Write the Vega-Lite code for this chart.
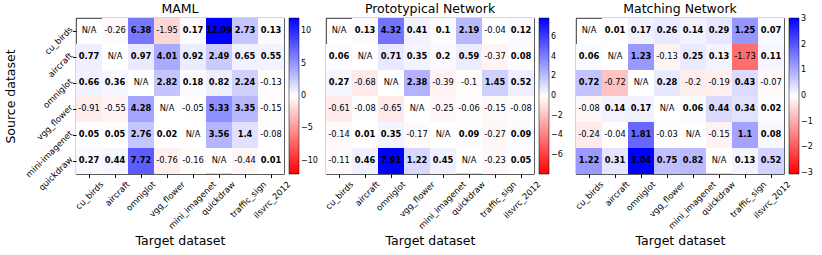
{
  "$schema": "https://vega.github.io/schema/vega-lite/v6.json",
  "padding": {"left": 4, "top": 2, "right": 5, "bottom": 5},
  "background": "white",
  "config": {
    "font": "DejaVu Sans",
    "view": {"stroke": "#000000", "strokeWidth": 0.8},
    "title": {"fontSize": 12.5, "fontWeight": "normal", "offset": 3, "color": "#000"},
    "axis": {"labelFontSize": 8.5, "titleFontSize": 12.5, "titleFontWeight": "normal", "labelColor": "#000", "titleColor": "#000", "tickColor": "#000", "domain": false, "tickSize": 3.5, "labelPadding": 2},
    "legend": {"labelFontSize": 8, "labelColor": "#000"}
  },
  "bounds": "flush",
  "spacing": 42,
  "resolve": {"scale": {"color": "independent"}, "legend": {"color": "independent"}},
  "data": {"values": [
    {"m":"MAML","s":"cu_birds","t":"cu_birds","v":null},{"m":"MAML","s":"cu_birds","t":"aircraft","v":-0.26},{"m":"MAML","s":"cu_birds","t":"omniglot","v":6.38},{"m":"MAML","s":"cu_birds","t":"vgg_flower","v":-1.95},{"m":"MAML","s":"cu_birds","t":"mini_imagenet","v":0.17},{"m":"MAML","s":"cu_birds","t":"quickdraw","v":12.09},{"m":"MAML","s":"cu_birds","t":"traffic_sign","v":2.73},{"m":"MAML","s":"cu_birds","t":"ilsvrc_2012","v":0.13},
    {"m":"MAML","s":"aircraft","t":"cu_birds","v":0.77},{"m":"MAML","s":"aircraft","t":"aircraft","v":null},{"m":"MAML","s":"aircraft","t":"omniglot","v":0.97},{"m":"MAML","s":"aircraft","t":"vgg_flower","v":4.01},{"m":"MAML","s":"aircraft","t":"mini_imagenet","v":0.92},{"m":"MAML","s":"aircraft","t":"quickdraw","v":2.49},{"m":"MAML","s":"aircraft","t":"traffic_sign","v":0.65},{"m":"MAML","s":"aircraft","t":"ilsvrc_2012","v":0.55},
    {"m":"MAML","s":"omniglot","t":"cu_birds","v":0.66},{"m":"MAML","s":"omniglot","t":"aircraft","v":0.36},{"m":"MAML","s":"omniglot","t":"omniglot","v":null},{"m":"MAML","s":"omniglot","t":"vgg_flower","v":2.82},{"m":"MAML","s":"omniglot","t":"mini_imagenet","v":0.18},{"m":"MAML","s":"omniglot","t":"quickdraw","v":0.82},{"m":"MAML","s":"omniglot","t":"traffic_sign","v":2.24},{"m":"MAML","s":"omniglot","t":"ilsvrc_2012","v":-0.13},
    {"m":"MAML","s":"vgg_flower","t":"cu_birds","v":-0.91},{"m":"MAML","s":"vgg_flower","t":"aircraft","v":-0.55},{"m":"MAML","s":"vgg_flower","t":"omniglot","v":4.28},{"m":"MAML","s":"vgg_flower","t":"vgg_flower","v":null},{"m":"MAML","s":"vgg_flower","t":"mini_imagenet","v":-0.05},{"m":"MAML","s":"vgg_flower","t":"quickdraw","v":5.33},{"m":"MAML","s":"vgg_flower","t":"traffic_sign","v":3.35},{"m":"MAML","s":"vgg_flower","t":"ilsvrc_2012","v":-0.15},
    {"m":"MAML","s":"mini-imagenet","t":"cu_birds","v":0.05},{"m":"MAML","s":"mini-imagenet","t":"aircraft","v":0.05},{"m":"MAML","s":"mini-imagenet","t":"omniglot","v":2.76},{"m":"MAML","s":"mini-imagenet","t":"vgg_flower","v":0.02},{"m":"MAML","s":"mini-imagenet","t":"mini_imagenet","v":null},{"m":"MAML","s":"mini-imagenet","t":"quickdraw","v":3.56},{"m":"MAML","s":"mini-imagenet","t":"traffic_sign","v":1.4},{"m":"MAML","s":"mini-imagenet","t":"ilsvrc_2012","v":-0.08},
    {"m":"MAML","s":"quickdraw","t":"cu_birds","v":0.27},{"m":"MAML","s":"quickdraw","t":"aircraft","v":0.44},{"m":"MAML","s":"quickdraw","t":"omniglot","v":7.72},{"m":"MAML","s":"quickdraw","t":"vgg_flower","v":-0.76},{"m":"MAML","s":"quickdraw","t":"mini_imagenet","v":-0.16},{"m":"MAML","s":"quickdraw","t":"quickdraw","v":null},{"m":"MAML","s":"quickdraw","t":"traffic_sign","v":-0.44},{"m":"MAML","s":"quickdraw","t":"ilsvrc_2012","v":0.01},

    {"m":"Proto","s":"cu_birds","t":"cu_birds","v":null},{"m":"Proto","s":"cu_birds","t":"aircraft","v":0.13},{"m":"Proto","s":"cu_birds","t":"omniglot","v":4.32},{"m":"Proto","s":"cu_birds","t":"vgg_flower","v":0.41},{"m":"Proto","s":"cu_birds","t":"mini_imagenet","v":0.1},{"m":"Proto","s":"cu_birds","t":"quickdraw","v":2.19},{"m":"Proto","s":"cu_birds","t":"traffic_sign","v":-0.04},{"m":"Proto","s":"cu_birds","t":"ilsvrc_2012","v":0.12},
    {"m":"Proto","s":"aircraft","t":"cu_birds","v":0.06},{"m":"Proto","s":"aircraft","t":"aircraft","v":null},{"m":"Proto","s":"aircraft","t":"omniglot","v":0.71},{"m":"Proto","s":"aircraft","t":"vgg_flower","v":0.35},{"m":"Proto","s":"aircraft","t":"mini_imagenet","v":0.2},{"m":"Proto","s":"aircraft","t":"quickdraw","v":0.59},{"m":"Proto","s":"aircraft","t":"traffic_sign","v":-0.37},{"m":"Proto","s":"aircraft","t":"ilsvrc_2012","v":0.08},
    {"m":"Proto","s":"omniglot","t":"cu_birds","v":0.27},{"m":"Proto","s":"omniglot","t":"aircraft","v":-0.68},{"m":"Proto","s":"omniglot","t":"omniglot","v":null},{"m":"Proto","s":"omniglot","t":"vgg_flower","v":2.38},{"m":"Proto","s":"omniglot","t":"mini_imagenet","v":-0.39},{"m":"Proto","s":"omniglot","t":"quickdraw","v":-0.1},{"m":"Proto","s":"omniglot","t":"traffic_sign","v":1.45},{"m":"Proto","s":"omniglot","t":"ilsvrc_2012","v":0.52},
    {"m":"Proto","s":"vgg_flower","t":"cu_birds","v":-0.61},{"m":"Proto","s":"vgg_flower","t":"aircraft","v":-0.08},{"m":"Proto","s":"vgg_flower","t":"omniglot","v":-0.65},{"m":"Proto","s":"vgg_flower","t":"vgg_flower","v":null},{"m":"Proto","s":"vgg_flower","t":"mini_imagenet","v":-0.25},{"m":"Proto","s":"vgg_flower","t":"quickdraw","v":-0.06},{"m":"Proto","s":"vgg_flower","t":"traffic_sign","v":-0.15},{"m":"Proto","s":"vgg_flower","t":"ilsvrc_2012","v":-0.08},
    {"m":"Proto","s":"mini-imagenet","t":"cu_birds","v":-0.14},{"m":"Proto","s":"mini-imagenet","t":"aircraft","v":0.01},{"m":"Proto","s":"mini-imagenet","t":"omniglot","v":0.35},{"m":"Proto","s":"mini-imagenet","t":"vgg_flower","v":-0.17},{"m":"Proto","s":"mini-imagenet","t":"mini_imagenet","v":null},{"m":"Proto","s":"mini-imagenet","t":"quickdraw","v":0.09},{"m":"Proto","s":"mini-imagenet","t":"traffic_sign","v":-0.27},{"m":"Proto","s":"mini-imagenet","t":"ilsvrc_2012","v":0.09},
    {"m":"Proto","s":"quickdraw","t":"cu_birds","v":-0.11},{"m":"Proto","s":"quickdraw","t":"aircraft","v":0.46},{"m":"Proto","s":"quickdraw","t":"omniglot","v":7.91},{"m":"Proto","s":"quickdraw","t":"vgg_flower","v":1.22},{"m":"Proto","s":"quickdraw","t":"mini_imagenet","v":0.45},{"m":"Proto","s":"quickdraw","t":"quickdraw","v":null},{"m":"Proto","s":"quickdraw","t":"traffic_sign","v":-0.23},{"m":"Proto","s":"quickdraw","t":"ilsvrc_2012","v":0.05},

    {"m":"Match","s":"cu_birds","t":"cu_birds","v":null},{"m":"Match","s":"cu_birds","t":"aircraft","v":0.01},{"m":"Match","s":"cu_birds","t":"omniglot","v":0.17},{"m":"Match","s":"cu_birds","t":"vgg_flower","v":0.26},{"m":"Match","s":"cu_birds","t":"mini_imagenet","v":0.14},{"m":"Match","s":"cu_birds","t":"quickdraw","v":0.29},{"m":"Match","s":"cu_birds","t":"traffic_sign","v":1.25},{"m":"Match","s":"cu_birds","t":"ilsvrc_2012","v":0.07},
    {"m":"Match","s":"aircraft","t":"cu_birds","v":0.06},{"m":"Match","s":"aircraft","t":"aircraft","v":null},{"m":"Match","s":"aircraft","t":"omniglot","v":1.23},{"m":"Match","s":"aircraft","t":"vgg_flower","v":-0.13},{"m":"Match","s":"aircraft","t":"mini_imagenet","v":0.25},{"m":"Match","s":"aircraft","t":"quickdraw","v":0.13},{"m":"Match","s":"aircraft","t":"traffic_sign","v":-1.73},{"m":"Match","s":"aircraft","t":"ilsvrc_2012","v":0.11},
    {"m":"Match","s":"omniglot","t":"cu_birds","v":0.72},{"m":"Match","s":"omniglot","t":"aircraft","v":-0.72},{"m":"Match","s":"omniglot","t":"omniglot","v":null},{"m":"Match","s":"omniglot","t":"vgg_flower","v":0.28},{"m":"Match","s":"omniglot","t":"mini_imagenet","v":-0.2},{"m":"Match","s":"omniglot","t":"quickdraw","v":-0.19},{"m":"Match","s":"omniglot","t":"traffic_sign","v":0.43},{"m":"Match","s":"omniglot","t":"ilsvrc_2012","v":-0.07},
    {"m":"Match","s":"vgg_flower","t":"cu_birds","v":-0.08},{"m":"Match","s":"vgg_flower","t":"aircraft","v":0.14},{"m":"Match","s":"vgg_flower","t":"omniglot","v":0.17},{"m":"Match","s":"vgg_flower","t":"vgg_flower","v":null},{"m":"Match","s":"vgg_flower","t":"mini_imagenet","v":0.06},{"m":"Match","s":"vgg_flower","t":"quickdraw","v":0.44},{"m":"Match","s":"vgg_flower","t":"traffic_sign","v":0.34},{"m":"Match","s":"vgg_flower","t":"ilsvrc_2012","v":0.02},
    {"m":"Match","s":"mini-imagenet","t":"cu_birds","v":-0.24},{"m":"Match","s":"mini-imagenet","t":"aircraft","v":-0.04},{"m":"Match","s":"mini-imagenet","t":"omniglot","v":1.81},{"m":"Match","s":"mini-imagenet","t":"vgg_flower","v":-0.03},{"m":"Match","s":"mini-imagenet","t":"mini_imagenet","v":null},{"m":"Match","s":"mini-imagenet","t":"quickdraw","v":-0.15},{"m":"Match","s":"mini-imagenet","t":"traffic_sign","v":1.1},{"m":"Match","s":"mini-imagenet","t":"ilsvrc_2012","v":0.08},
    {"m":"Match","s":"quickdraw","t":"cu_birds","v":1.22},{"m":"Match","s":"quickdraw","t":"aircraft","v":0.31},{"m":"Match","s":"quickdraw","t":"omniglot","v":3.04},{"m":"Match","s":"quickdraw","t":"vgg_flower","v":0.75},{"m":"Match","s":"quickdraw","t":"mini_imagenet","v":0.82},{"m":"Match","s":"quickdraw","t":"quickdraw","v":null},{"m":"Match","s":"quickdraw","t":"traffic_sign","v":0.13},{"m":"Match","s":"quickdraw","t":"ilsvrc_2012","v":0.52}
  ]},
  "hconcat": [
    {
      "width": 208, "height": 156,
      "title": "MAML",
      "transform": [{"filter": "datum.m === 'MAML'"}, {"calculate": "datum.v === null ? 'N/A' : '' + datum.v", "as": "lab"}],
      "encoding": {
        "x": {"field": "t", "type": "nominal", "sort": ["cu_birds","aircraft","omniglot","vgg_flower","mini_imagenet","quickdraw","traffic_sign","ilsvrc_2012"], "scale": {"paddingInner": 0, "paddingOuter": 0}, "axis": {"title": "Target dataset", "labelAngle": -45, "labelAlign": "right", "labelBaseline": "top", "labelOffset": {"expr": "0.354*(length(datum.label)*4.8 - 10)"}, "titlePadding": 4}},
        "y": {"field": "s", "type": "nominal", "sort": ["cu_birds","aircraft","omniglot","vgg_flower","mini-imagenet","quickdraw"], "scale": {"paddingInner": 0, "paddingOuter": 0}, "axis": {"title": "Source dataset", "labelAngle": -45, "labelAlign": "right", "labelBaseline": "middle", "labelOffset": -3, "titlePadding": 6}}
      },
      "layer": [
        {"transform": [{"filter": "datum.v !== null"}], "mark": {"type": "rect"},
         "encoding": {"color": {"field": "v", "type": "quantitative", "scale": {"domain": [-12.09, 0, 12.09], "range": ["#ff0000", "#ffffff", "#0000ff"], "interpolate": "rgb"},
           "legend": {"title": null, "orient": "right", "direction": "vertical", "gradientLength": 156, "gradientThickness": 10, "offset": 5, "padding": 0, "values": [-10, -5, 0, 5, 10], "labelOverlap": false, "gradientStrokeColor": "#000", "gradientStrokeWidth": 0.5}}}},
        {"transform": [{"filter": "datum.v > 0"}], "mark": {"type": "text", "fontSize": 8.3, "fontWeight": "bold", "color": "#000"},
         "encoding": {"text": {"field": "lab"}}},
        {"transform": [{"filter": "!(datum.v > 0)"}], "mark": {"type": "text", "fontSize": 8.3, "fontWeight": "normal", "color": "#000"},
         "encoding": {"text": {"field": "lab"}}}
      ]
    },
    {
      "width": 208, "height": 156,
      "title": "Prototypical Network",
      "transform": [{"filter": "datum.m === 'Proto'"}, {"calculate": "datum.v === null ? 'N/A' : '' + datum.v", "as": "lab"}],
      "encoding": {
        "x": {"field": "t", "type": "nominal", "sort": ["cu_birds","aircraft","omniglot","vgg_flower","mini_imagenet","quickdraw","traffic_sign","ilsvrc_2012"], "scale": {"paddingInner": 0, "paddingOuter": 0}, "axis": {"title": "Target dataset", "labelAngle": -45, "labelAlign": "right", "labelBaseline": "top", "labelOffset": {"expr": "0.354*(length(datum.label)*4.8 - 10)"}, "titlePadding": 4}},
        "y": {"field": "s", "type": "nominal", "sort": ["cu_birds","aircraft","omniglot","vgg_flower","mini-imagenet","quickdraw"], "scale": {"paddingInner": 0, "paddingOuter": 0}, "axis": null}
      },
      "layer": [
        {"transform": [{"filter": "datum.v !== null"}], "mark": {"type": "rect"},
         "encoding": {"color": {"field": "v", "type": "quantitative", "scale": {"domain": [-7.91, 0, 7.91], "range": ["#ff0000", "#ffffff", "#0000ff"], "interpolate": "rgb"},
           "legend": {"title": null, "orient": "right", "direction": "vertical", "gradientLength": 156, "gradientThickness": 10, "offset": 5, "padding": 0, "values": [-6, -4, -2, 0, 2, 4, 6], "labelOverlap": false, "gradientStrokeColor": "#000", "gradientStrokeWidth": 0.5}}}},
        {"transform": [{"filter": "datum.v > 0"}], "mark": {"type": "text", "fontSize": 8.3, "fontWeight": "bold", "color": "#000"},
         "encoding": {"text": {"field": "lab"}}},
        {"transform": [{"filter": "!(datum.v > 0)"}], "mark": {"type": "text", "fontSize": 8.3, "fontWeight": "normal", "color": "#000"},
         "encoding": {"text": {"field": "lab"}}}
      ]
    },
    {
      "width": 208, "height": 156,
      "title": "Matching Network",
      "transform": [{"filter": "datum.m === 'Match'"}, {"calculate": "datum.v === null ? 'N/A' : '' + datum.v", "as": "lab"}],
      "encoding": {
        "x": {"field": "t", "type": "nominal", "sort": ["cu_birds","aircraft","omniglot","vgg_flower","mini_imagenet","quickdraw","traffic_sign","ilsvrc_2012"], "scale": {"paddingInner": 0, "paddingOuter": 0}, "axis": {"title": "Target dataset", "labelAngle": -45, "labelAlign": "right", "labelBaseline": "top", "labelOffset": {"expr": "0.354*(length(datum.label)*4.8 - 10)"}, "titlePadding": 4}},
        "y": {"field": "s", "type": "nominal", "sort": ["cu_birds","aircraft","omniglot","vgg_flower","mini-imagenet","quickdraw"], "scale": {"paddingInner": 0, "paddingOuter": 0}, "axis": null}
      },
      "layer": [
        {"transform": [{"filter": "datum.v !== null"}], "mark": {"type": "rect"},
         "encoding": {"color": {"field": "v", "type": "quantitative", "scale": {"domain": [-3.04, 0, 3.04], "range": ["#ff0000", "#ffffff", "#0000ff"], "interpolate": "rgb"},
           "legend": {"title": null, "orient": "right", "direction": "vertical", "gradientLength": 156, "gradientThickness": 10, "offset": 5, "padding": 0, "values": [-3, -2, -1, 0, 1, 2, 3], "labelOverlap": false, "gradientStrokeColor": "#000", "gradientStrokeWidth": 0.5}}}},
        {"transform": [{"filter": "datum.v > 0"}], "mark": {"type": "text", "fontSize": 8.3, "fontWeight": "bold", "color": "#000"},
         "encoding": {"text": {"field": "lab"}}},
        {"transform": [{"filter": "!(datum.v > 0)"}], "mark": {"type": "text", "fontSize": 8.3, "fontWeight": "normal", "color": "#000"},
         "encoding": {"text": {"field": "lab"}}}
      ]
    }
  ]
}
